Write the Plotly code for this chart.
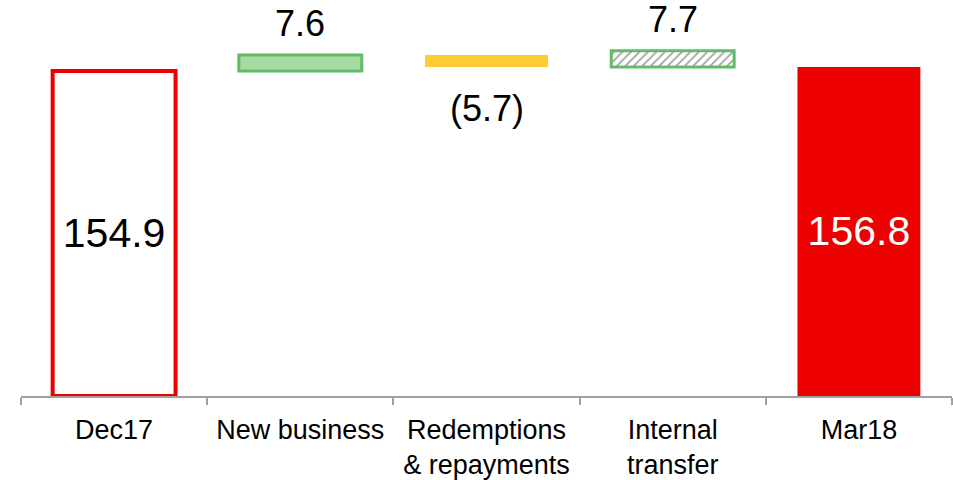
import plotly.graph_objects as go

categories = ["Dec17", "New business", "Redemptions<br>& repayments", "Internal<br>transfer", "Mar18"]
start_value = 154.9
changes = [7.6, -5.7, 7.7]
end_value = 156.8
change_labels = ["7.6", "(5.7)", "7.7"]
total_labels = ["154.9", "156.8"]

# bases for the floating bars
bases = [0]
running = start_value
for c in changes:
    bases.append(running)
    running += c
bases.append(0)
values = [start_value] + changes + [end_value]

RED = "#EC0000"
GREEN_LINE = "#62BB66"
GREEN_FILL = "#A8DBA4"
YELLOW = "#FFCC33"

fill_colors = ["white", GREEN_FILL, YELLOW, "white", RED]
line_colors = [RED, GREEN_LINE, YELLOW, GREEN_LINE, RED]
line_widths = [4, 3, 0, 3, 0]
pattern_shapes = ["", "", "", "/", ""]

texts = [total_labels[0], "", "", "", total_labels[1]]
text_colors = ["black", "black", "black", "black", "white"]

fig = go.Figure()
fig.add_trace(go.Bar(
    x=categories,
    y=values,
    base=bases,
    width=0.66,
    marker=dict(
        color=fill_colors,
        line=dict(color=line_colors, width=line_widths),
        pattern=dict(shape=pattern_shapes, fgcolor="#A3DA9F", bgcolor="white",
                     size=6, solidity=0.3, fillmode="overlay"),
    ),
    text=texts,
    textposition="inside",
    insidetextanchor="middle",
    textfont=dict(size=41, color=text_colors, family="Liberation Sans, Arial"),
    constraintext="none",
    hoverinfo="skip",
))

# labels for the change bars
for i, (c, lab) in enumerate(zip(changes, change_labels), start=1):
    top = bases[i] + max(c, 0)
    bot = bases[i] + min(c, 0)
    if c >= 0:
        fig.add_annotation(x=categories[i], y=top, text=lab, showarrow=False,
                           yanchor="middle", yshift=31,
                           font=dict(size=36, color="black", family="Liberation Sans, Arial"))
    else:
        fig.add_annotation(x=categories[i], y=bot, text=lab, showarrow=False,
                           yanchor="middle", yshift=-42,
                           font=dict(size=36, color="black", family="Liberation Sans, Arial"))

fig.update_layout(
    width=953, height=480,
    margin=dict(l=21, r=1, t=0, b=79),
    plot_bgcolor="white", paper_bgcolor="white",
    showlegend=False,
    font=dict(family="Liberation Sans, Arial", color="black"),
)
fig.update_xaxes(
    type="category",
    range=[-0.5, 4.5],
    showline=True, linecolor="#A0A0A0", linewidth=1.5,
    ticks="outside", tickson="boundaries", ticklen=7, tickcolor="#A0A0A0", tickwidth=1.5,
    tickfont=dict(size=27, color="black"),
    ticklabelstandoff=9,
    showgrid=False,
)
fig.update_yaxes(range=[0, 188.7], visible=False, showgrid=False, zeroline=False)

fig.write_html("out.html", config={"displayModeBar": False},
               post_script="document.body.style.margin='0';")
